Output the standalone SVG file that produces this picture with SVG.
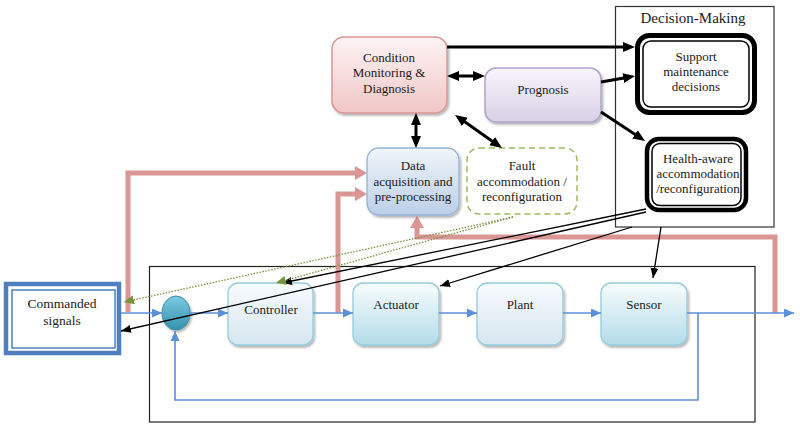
<svg xmlns="http://www.w3.org/2000/svg" width="800" height="431" viewBox="0 0 800 431" font-family="'Liberation Serif', 'DejaVu Serif', 'Times New Roman', serif">
<style>
text{font-family:'Liberation Serif','DejaVu Serif','Times New Roman',serif;font-size:13px;fill:#1a1a1a;text-anchor:middle}
.blue{fill:none;stroke:#5b8fd8;stroke-width:1.6}
.pink{fill:none;stroke:#d99694;stroke-width:5;stroke-linejoin:miter}
.thick{fill:none;stroke:#000;stroke-width:3}
.thin{fill:none;stroke:#000;stroke-width:1.3}
.dot{fill:none;stroke:#77933c;stroke-width:1.3;stroke-dasharray:1.5 1.5}
</style>
<defs>
<linearGradient id="gCtl" x1="0" y1="0" x2="0" y2="1"><stop offset="0" stop-color="#f8fbfd"/><stop offset="1" stop-color="#d6e6f0"/></linearGradient>
<linearGradient id="gAct" x1="0" y1="0" x2="0" y2="1"><stop offset="0" stop-color="#f8fcfd"/><stop offset="1" stop-color="#b3dce8"/></linearGradient>
<linearGradient id="gData" x1="0" y1="0" x2="0" y2="1"><stop offset="0" stop-color="#f0f5fb"/><stop offset="1" stop-color="#bccfe7"/></linearGradient>
<linearGradient id="gCM" x1="0" y1="0" x2="0" y2="1"><stop offset="0" stop-color="#fdf4f4"/><stop offset="1" stop-color="#f0c6c5"/></linearGradient>
<linearGradient id="gPro" x1="0" y1="0" x2="0" y2="1"><stop offset="0" stop-color="#f8f6fb"/><stop offset="1" stop-color="#d8d0e6"/></linearGradient>
<linearGradient id="gSum" x1="0" y1="0" x2="0" y2="1"><stop offset="0" stop-color="#7ccbe0"/><stop offset="1" stop-color="#3592ad"/></linearGradient>
<filter id="sh" x="-10%" y="-10%" width="130%" height="130%"><feDropShadow dx="1.5" dy="2" stdDeviation="1.3" flood-color="#000" flood-opacity="0.3"/></filter>
<marker id="aBlue" markerUnits="userSpaceOnUse" markerWidth="10" markerHeight="10" refX="10" refY="4.5" orient="auto"><path d="M0,0 L10,4.5 L0,9 z" fill="#5b8fd8"/></marker>
<marker id="aPink" markerUnits="userSpaceOnUse" markerWidth="13" markerHeight="15" refX="0" refY="7" orient="auto"><path d="M0,0 L12,7 L0,14 z" fill="#d99694"/></marker>
<marker id="aBig" markerUnits="userSpaceOnUse" markerWidth="12" markerHeight="11" refX="8" refY="5" orient="auto-start-reverse"><path d="M0,0 L12,5 L0,10 z" fill="#000"/></marker>
<marker id="aThin" markerUnits="userSpaceOnUse" markerWidth="11" markerHeight="9" refX="10" refY="4" orient="auto"><path d="M0,0 L10,4 L0,8 z" fill="#000"/></marker>
<marker id="aGreen" markerUnits="userSpaceOnUse" markerWidth="11" markerHeight="10" refX="10" refY="4.5" orient="auto"><path d="M0,0 L10,4.5 L0,9 z" fill="#77933c"/></marker>
</defs>
<rect width="800" height="431" fill="#fff"/>

<g id="system-frame"><rect x="149.5" y="266.5" width="605.5" height="155.5" fill="none" stroke="#222" stroke-width="1.2"/></g>
<g id="decision-making"><rect x="615.5" y="6.5" width="158.5" height="220.5" fill="#fff" stroke="#333" stroke-width="1.2"/><text x="693" y="23" style="font-size:15px">Decision-Making</text></g>

<g id="pink-connectors">
<path class="pink" d="M128,312 V173 H355" marker-end="url(#aPink)"/>
<path class="pink" d="M338,313 V194 H355" marker-end="url(#aPink)"/>
<path class="pink" d="M775,313 V237 H417 V228" marker-end="url(#aPink)"/>
</g>

<g id="commanded-signals">
<rect x="6" y="284" width="113" height="69" fill="#fff" stroke="#4f7fbf" stroke-width="4.5"/>
<rect x="12" y="290" width="103" height="58" fill="none" stroke="#4f7fbf" stroke-width="1.5"/>
<text x="62" y="308" style="font-size:13.5px">Commanded</text>
<text x="62" y="325" style="font-size:13.5px">signals</text>
</g>

<g id="sum"><ellipse cx="176" cy="313" rx="14" ry="17" fill="url(#gSum)" stroke="#3a8aa3" stroke-width="1" filter="url(#sh)"/></g>

<g id="controller"><rect x="228" y="283" width="85" height="62" rx="10" fill="url(#gCtl)" stroke="#93cddd" stroke-width="1.3" filter="url(#sh)"/><text x="271" y="314">Controller</text></g>
<g id="actuator"><rect x="353" y="283" width="86" height="62" rx="10" fill="url(#gAct)" stroke="#93cddd" stroke-width="1.3" filter="url(#sh)"/><text x="396" y="309">Actuator</text></g>
<g id="plant"><rect x="477" y="283" width="86" height="62" rx="10" fill="url(#gCtl)" stroke="#93cddd" stroke-width="1.3" filter="url(#sh)"/><text x="520" y="309">Plant</text></g>
<g id="sensor"><rect x="601" y="283" width="86" height="62" rx="10" fill="url(#gAct)" stroke="#93cddd" stroke-width="1.3" filter="url(#sh)"/><text x="644" y="309">Sensor</text></g>

<g id="data-acquisition"><rect x="367" y="148" width="92" height="67" rx="12" fill="url(#gData)" stroke="#95b3d7" stroke-width="1.3" filter="url(#sh)"/>
<text x="413" y="170">Data</text><text x="413" y="186">acquisition and</text><text x="413" y="201">pre-processing</text></g>

<g id="fault-accommodation"><rect x="467" y="148" width="110" height="66" rx="12" fill="#fff" stroke="#9bbb59" stroke-width="1.5" stroke-dasharray="6 4"/>
<text x="522" y="170">Fault</text><text x="522" y="186">accommodation /</text><text x="522" y="201">reconfiguration</text></g>

<g id="condition-monitoring"><rect x="332" y="37" width="115" height="76" rx="12" fill="url(#gCM)" stroke="#d99694" stroke-width="1.5" filter="url(#sh)"/>
<text x="389" y="62">Condition</text><text x="389" y="77">Monitoring &amp;</text><text x="389" y="93">Diagnosis</text></g>

<g id="prognosis"><rect x="485" y="68" width="116" height="54" rx="11" fill="url(#gPro)" stroke="#b3a2c7" stroke-width="1.5" filter="url(#sh)"/>
<text x="543" y="94">Prognosis</text></g>

<g id="support-maintenance"><rect x="637.5" y="35.5" width="117" height="77" rx="12" fill="#fff" stroke="#000" stroke-width="5"/>
<rect x="643" y="41" width="106" height="66" rx="8" fill="none" stroke="#000" stroke-width="1.5"/>
<text x="696" y="61">Support</text><text x="696" y="76">maintenance</text><text x="696" y="91">decisions</text></g>

<g id="health-aware"><rect x="647" y="139" width="99" height="71" rx="12" fill="#fff" stroke="#000" stroke-width="4.5"/>
<rect x="652" y="143.5" width="89" height="62" rx="8" fill="none" stroke="#000" stroke-width="1.5"/>
<text x="698" y="163">Health-aware</text><text x="698" y="178">accommodation</text><text x="698" y="193">/reconfiguration</text></g>

<g id="connectors">
<path class="blue" d="M121,313 H162" marker-end="url(#aBlue)"/>
<path class="blue" d="M190,313 H228" marker-end="url(#aBlue)"/>
<path class="blue" d="M313,313 H353" marker-end="url(#aBlue)"/>
<path class="blue" d="M439,313 H477" marker-end="url(#aBlue)"/>
<path class="blue" d="M563,313 H601" marker-end="url(#aBlue)"/>
<path class="blue" d="M687,313 H794" marker-end="url(#aBlue)"/>
<path class="blue" d="M698,313 V400 H175 V331" marker-end="url(#aBlue)"/>

<path class="thick" d="M447,47 H631" marker-end="url(#aBig)"/>
<path class="thick" d="M451,76 H481" marker-start="url(#aBig)" marker-end="url(#aBig)"/>
<path class="thick" d="M601,82 L631.1,76.7" marker-end="url(#aBig)"/>
<path class="thick" d="M601,112 L641.7,138.8" marker-end="url(#aBig)"/>
<path class="thick" d="M416,117 V144" marker-start="url(#aBig)" marker-end="url(#aBig)"/>
<path class="thick" d="M458.3,117.3 L498.7,145.7" marker-start="url(#aBig)" marker-end="url(#aBig)"/>

<path class="thin" d="M646,209 L282,283" marker-end="url(#aThin)"/>
<path class="thin" d="M646,212 L121,331" marker-end="url(#aThin)"/>
<path class="thin" d="M632,227 L440,286" marker-end="url(#aThin)"/>
<path class="thin" d="M661,227 L653,278" marker-end="url(#aThin)"/>

<path class="dot" d="M513,217 L276,283" marker-end="url(#aGreen)"/>
<path class="dot" d="M513,217 L124,302" marker-end="url(#aGreen)"/>
</g>
</svg>
